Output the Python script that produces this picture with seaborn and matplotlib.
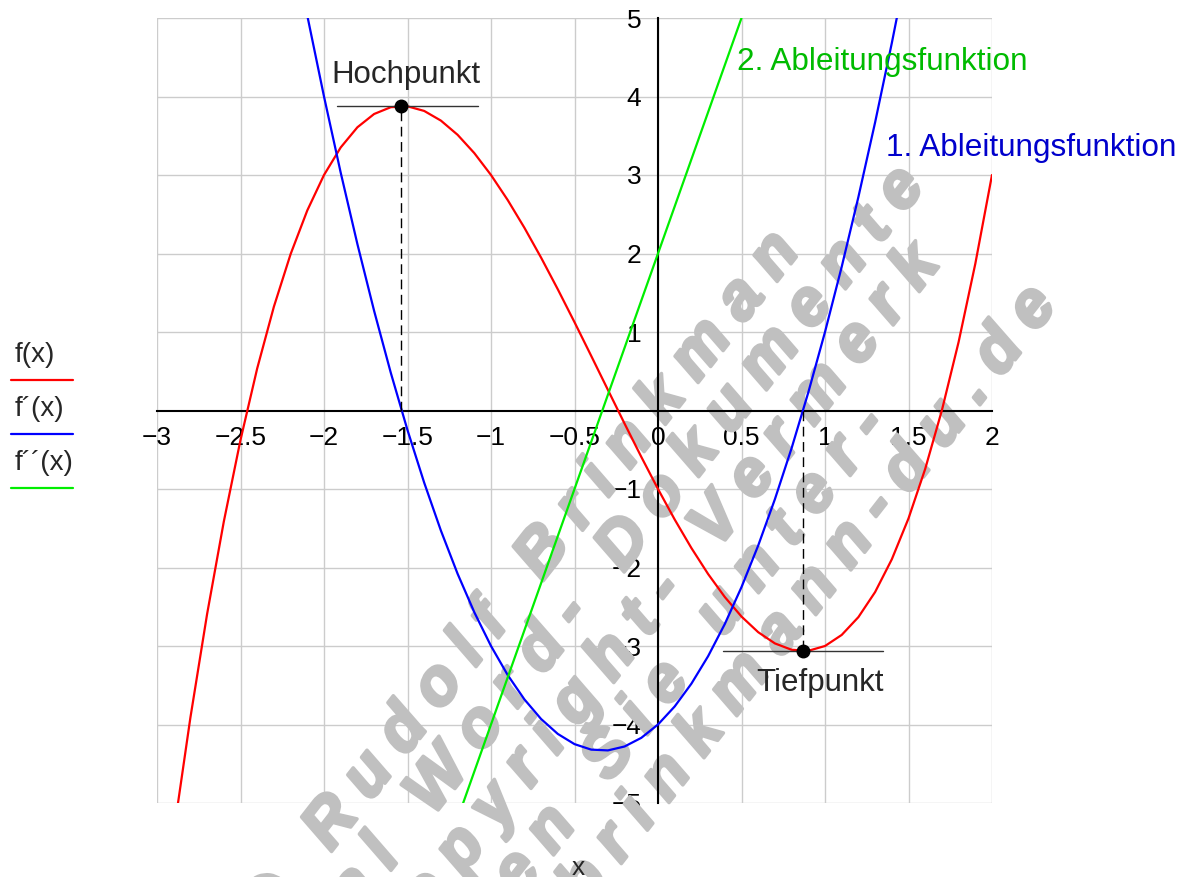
import matplotlib
matplotlib.use('Agg')
import matplotlib.pyplot as plt
import matplotlib.patheffects as pe
import seaborn as sns
from matplotlib.lines import Line2D
from matplotlib.font_manager import FontProperties, findfont, get_font

# f(x)
x_f = [-3.0, -2.9, -2.8, -2.7, -2.6, -2.5, -2.4, -2.3, -2.2, -2.1, -2.0,
       -1.9, -1.8, -1.7, -1.6, -1.5, -1.4, -1.3, -1.2, -1.1, -1.0,
       -0.9, -0.8, -0.7, -0.6, -0.5, -0.4, -0.3, -0.2, -0.1, 0.0,
       0.1, 0.2, 0.3, 0.4, 0.5, 0.6, 0.7, 0.8, 0.9, 1.0,
       1.1, 1.2, 1.3, 1.4, 1.5, 1.6, 1.7, 1.8, 1.9, 2.0]
y_f = [-7.000, -5.379, -3.912, -2.593, -1.416, -0.375, 0.536, 1.323, 1.992, 2.549, 3.000,
       3.351, 3.608, 3.777, 3.864, 3.875, 3.816, 3.693, 3.512, 3.279, 3.000,
       2.681, 2.328, 1.947, 1.544, 1.125, 0.696, 0.263, -0.168, -0.591, -1.000,
       -1.389, -1.752, -2.083, -2.376, -2.625, -2.824, -2.967, -3.048, -3.061, -3.000,
       -2.859, -2.632, -2.313, -1.896, -1.375, -0.744, 0.003, 0.872, 1.869, 3.000]

# f'(x), blue curve
x_f1 = [-2.2, -2.1, -2.0, -1.9, -1.8, -1.7, -1.6, -1.5, -1.4, -1.3, -1.2,
        -1.1, -1.0, -0.9, -0.8, -0.7, -0.6, -0.5, -0.4, -0.3, -0.2,
        -0.1, 0.0, 0.1, 0.2, 0.3, 0.4, 0.5, 0.6, 0.7, 0.8,
        0.9, 1.0, 1.1, 1.2, 1.3, 1.4, 1.5]
y_f1 = [6.12, 5.03, 4.00, 3.03, 2.12, 1.27, 0.48, -0.25, -0.92, -1.53, -2.08,
        -2.57, -3.00, -3.37, -3.68, -3.93, -4.12, -4.25, -4.32, -4.33, -4.28,
        -4.17, -4.00, -3.77, -3.48, -3.13, -2.72, -2.25, -1.72, -1.13, -0.48,
        0.23, 1.00, 1.83, 2.72, 3.67, 4.68, 5.75]

# f''(x), green line
x_f2 = [-1.2, 0.6]
y_f2 = [-5.2, 5.6]

hoch_x, hoch_y = -1.54, 3.88
tief_x, tief_y = 0.87, -3.06

x_ticks = [-3, -2.5, -2, -1.5, -1, -0.5, 0, 0.5, 1, 1.5, 2]
x_tick_labels = ['−3', '−2.5', '−2', '−1.5', '−1', '−0.5', '0', '0.5', '1', '1.5', '2']
y_ticks = [-5, -4, -3, -2, -1, 1, 2, 3, 4, 5]
y_tick_labels = ['−5', '−4', '−3', '−2', '−1', '1', '2', '3', '4', '5']

legend_labels = ['f(x)', 'f´(x)', 'f´´(x)']
curve_colors = ['#ff0000', '#0000ff', '#00ee00']

watermark = ['© Rudolf Brinkman', 'Original Word- Dokumente', 'ohne Copyright- Vermerk',
             'erhalten Sie unter-', 'www.brinkmann-du.de']

sns.set_style('white')
plt.rcParams['font.family'] = ['Liberation Sans', 'DejaVu Sans']

W, H = 1183, 877
fig = plt.figure(figsize=(W / 100, H / 100), dpi=100)
ax = fig.add_axes([157 / W, 1 - 803 / H, 835 / W, 785 / H])

sns.lineplot(x=x_f, y=y_f, color=curve_colors[0], lw=1.6, ax=ax, zorder=3)
sns.lineplot(x=x_f1, y=y_f1, color=curve_colors[1], lw=1.6, ax=ax, zorder=3)
sns.lineplot(x=x_f2, y=y_f2, color=curve_colors[2], lw=1.6, ax=ax, zorder=3)

ax.set_xlim(-3, 2)
ax.set_ylim(-5, 5)
ax.set_xticks(x_ticks)
ax.set_xticklabels(x_tick_labels)
ax.set_yticks(y_ticks)
ax.set_yticklabels(y_tick_labels)
for lab in ax.get_xticklabels():
    if lab.get_text() == '0':
        lab.set_ha('left')
ax.grid(True, color='#cccccc', lw=1)
ax.set_axisbelow(True)

for s in ['top', 'right']:
    ax.spines[s].set_visible(False)
ax.spines['left'].set_position(('data', 0))
ax.spines['bottom'].set_position(('data', 0))
for s in ['left', 'bottom']:
    ax.spines[s].set_linewidth(1.5)
    ax.spines[s].set_color('black')
    ax.spines[s].set_zorder(2.5)
ax.tick_params(direction='inout', length=12, width=1.5, labelsize=19, colors='black')
ax.tick_params(axis='x', pad=5)
ax.tick_params(axis='y', pad=6)
ax.set_xlabel('')
ax.set_ylabel('')

# Hochpunkt / Tiefpunkt
ax.plot([-1.92, -1.08], [hoch_y, hoch_y], color='#333333', lw=1, zorder=4)
ax.plot([hoch_x, hoch_x], [0, hoch_y], color='black', lw=1, dashes=(7, 4), zorder=4)
ax.plot(hoch_x, hoch_y, 'o', color='black', ms=9, zorder=5)
ax.plot([0.39, 1.35], [tief_y, tief_y], color='#333333', lw=1, zorder=4)
ax.plot([tief_x, tief_x], [0, tief_y], color='black', lw=1, dashes=(7, 4), zorder=4)
ax.plot(tief_x, tief_y, 'o', color='black', ms=9, zorder=5)

ax.text(-1.51, 4.27, 'Hochpunkt', ha='center', va='center', fontsize=22.5, zorder=6)
ax.text(0.97, -3.47, 'Tiefpunkt', ha='center', va='center', fontsize=22.5, zorder=6)
ax.text(0.473, 4.44, '2. Ableitungsfunktion', ha='left', va='center', fontsize=22.7,
        color='#00bb00', clip_on=False, zorder=6)
ax.text(1.365, 3.34, '1. Ableitungsfunktion', ha='left', va='center', fontsize=22.7,
        color='#0000cc', clip_on=False, zorder=6)

fig.text(578 / W, 1 - 868 / H, 'x', ha='center', va='center', fontsize=19)

# legend on the left
for i, (lab, col) in enumerate(zip(legend_labels, curve_colors)):
    ty = 355 + 54 * i
    fig.text(15 / W, 1 - ty / H, lab, ha='left', va='center', fontsize=20)
    ly = 1 - (ty + 25) / H
    fig.add_artist(Line2D([11 / W, 73 / W], [ly, ly], color=col, lw=1.6))

# watermark: letter-spaced grey text at 52 degrees, placed char by char
wm_size = 47
wm_fp = FontProperties(family='Liberation Sans', weight='bold', style='italic', size=wm_size)
wm_font = get_font(findfont(wm_fp))
wm_font.set_size(wm_size, 100)
track = 0.26 * wm_size * 100 / 72
dx, dy = 0.616, -0.788          # text direction in pixel coords (y down)
ends = [(801, 251), (926, 186), (941, 264), (889, 426), (1058, 305)]
for txt, (ex, ey) in zip(watermark, ends):
    advs = [wm_font.load_char(ord(c)).linearHoriAdvance / 65536 for c in txt]
    total = sum(advs) + track * (len(txt) - 1)
    pos = 0.0
    for c, a in zip(txt, advs):
        px = ex - (total - pos) * dx
        py = ey - (total - pos) * dy
        if c != ' ':
            ax.text(px / W, 1 - py / H, c, transform=fig.transFigure, rotation=52,
                    rotation_mode='anchor', ha='left', va='baseline',
                    fontproperties=wm_fp, color='#c0c0c0', zorder=1, clip_on=False,
                    path_effects=[pe.withStroke(linewidth=2.5, foreground='#c0c0c0')])
        pos += a + track

fig.savefig('out.png', dpi=100)
